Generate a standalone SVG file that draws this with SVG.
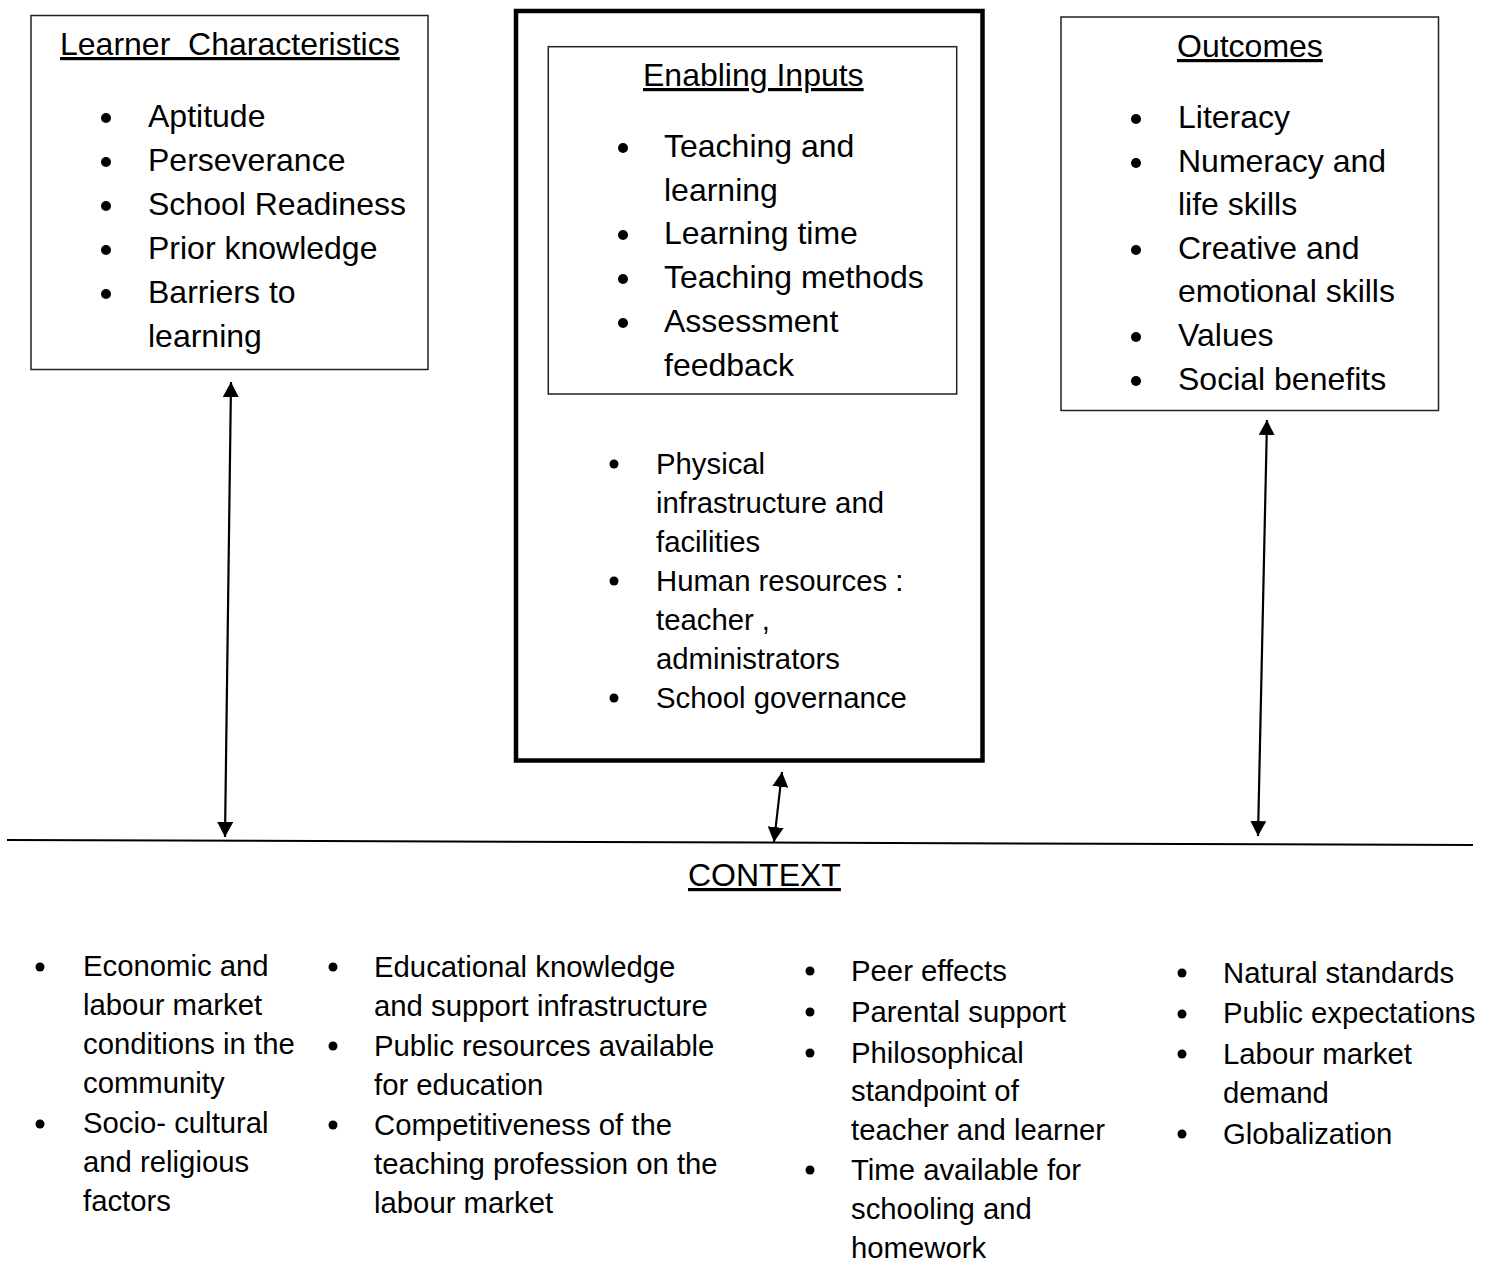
<svg xmlns="http://www.w3.org/2000/svg" width="1486" height="1262" viewBox="0 0 1486 1262">
<style>
text{font-family:"Liberation Sans",Arial,sans-serif;fill:#000}
.h{font-size:32px;text-decoration:underline}
.t32{font-size:32px}
.t29{font-size:29.3px}
.box{fill:none;stroke:#222;stroke-width:1.5}
.frame{fill:none;stroke:#000;stroke-width:4.5}
.b{fill:#000}
.conn{fill:none;stroke:#000;stroke-width:2.2}
.ctx{fill:none;stroke:#000;stroke-width:2}
</style>
<defs>
<marker id="ah" viewBox="0 0 15 16" refX="15" refY="8" markerWidth="15" markerHeight="16" markerUnits="userSpaceOnUse" orient="auto-start-reverse">
<path d="M0,0 L15,8 L0,16 z" fill="#000"/>
</marker>
</defs>
<rect width="1486" height="1262" fill="#fff"/>

<g id="learner-characteristics">
<rect class="box" x="31" y="15.5" width="397" height="354"/>
<text class="h" x="60" y="55" xml:space="preserve">Learner  Characteristics</text>
<circle class="b" cx="106" cy="118" r="5"/>
<circle class="b" cx="106" cy="162" r="5"/>
<circle class="b" cx="106" cy="206" r="5"/>
<circle class="b" cx="106" cy="250" r="5"/>
<circle class="b" cx="106" cy="294" r="5"/>
<text class="t32" x="148" y="127">Aptitude</text>
<text class="t32" x="148" y="171">Perseverance</text>
<text class="t32" x="148" y="215">School Readiness</text>
<text class="t32" x="148" y="259">Prior knowledge</text>
<text class="t32" x="148" y="303">Barriers to</text>
<text class="t32" x="148" y="347">learning</text>
</g>

<g id="enabling-inputs">
<rect class="frame" x="516" y="11" width="466.5" height="749.5"/>
<g id="enabling-inputs-core">
<rect class="box" x="548.3" y="46.7" width="408.4" height="347.3"/>
<text class="h" x="643" y="86">Enabling Inputs</text>
<circle class="b" cx="623" cy="148" r="5"/>
<circle class="b" cx="623" cy="235" r="5"/>
<circle class="b" cx="623" cy="279" r="5"/>
<circle class="b" cx="623" cy="323" r="5"/>
<text class="t32" x="664" y="157">Teaching and</text>
<text class="t32" x="664" y="201">learning</text>
<text class="t32" x="664" y="244">Learning time</text>
<text class="t32" x="664" y="288">Teaching methods</text>
<text class="t32" x="664" y="332">Assessment</text>
<text class="t32" x="664" y="376">feedback</text>
</g>
<circle class="b" cx="614" cy="464" r="4.5"/>
<circle class="b" cx="614" cy="581" r="4.5"/>
<circle class="b" cx="614" cy="698" r="4.5"/>
<text class="t29" x="656" y="474">Physical</text>
<text class="t29" x="656" y="513">infrastructure and</text>
<text class="t29" x="656" y="552">facilities</text>
<text class="t29" x="656" y="591">Human resources :</text>
<text class="t29" x="656" y="630">teacher ,</text>
<text class="t29" x="656" y="669">administrators</text>
<text class="t29" x="656" y="708">School governance</text>
</g>

<g id="outcomes">
<rect class="box" x="1061" y="17" width="377.5" height="393.5"/>
<text class="h" x="1177" y="57">Outcomes</text>
<circle class="b" cx="1136" cy="119" r="5"/>
<circle class="b" cx="1136" cy="163" r="5"/>
<circle class="b" cx="1136" cy="250" r="5"/>
<circle class="b" cx="1136" cy="337" r="5"/>
<circle class="b" cx="1136" cy="381" r="5"/>
<text class="t32" x="1178" y="128">Literacy</text>
<text class="t32" x="1178" y="172">Numeracy and</text>
<text class="t32" x="1178" y="215">life skills</text>
<text class="t32" x="1178" y="259">Creative and</text>
<text class="t32" x="1178" y="302">emotional skills</text>
<text class="t32" x="1178" y="346">Values</text>
<text class="t32" x="1178" y="390">Social benefits</text>
</g>

<g id="context">
<line class="ctx" x1="7" y1="840" x2="1473" y2="845"/>
<text class="h" x="688" y="886">CONTEXT</text>
<g id="context-col1">
<circle class="b" cx="40" cy="967" r="4.5"/>
<circle class="b" cx="40" cy="1124" r="4.5"/>
<text class="t29" x="83" y="976">Economic and</text>
<text class="t29" x="83" y="1015">labour market</text>
<text class="t29" x="83" y="1054">conditions in the</text>
<text class="t29" x="83" y="1093">community</text>
<text class="t29" x="83" y="1133">Socio- cultural</text>
<text class="t29" x="83" y="1172">and religious</text>
<text class="t29" x="83" y="1211">factors</text>
</g>
<g id="context-col2">
<circle class="b" cx="333" cy="967" r="4.5"/>
<circle class="b" cx="333" cy="1046" r="4.5"/>
<circle class="b" cx="333" cy="1125" r="4.5"/>
<text class="t29" x="374" y="977">Educational knowledge</text>
<text class="t29" x="374" y="1016">and support infrastructure</text>
<text class="t29" x="374" y="1056">Public resources available</text>
<text class="t29" x="374" y="1095">for education</text>
<text class="t29" x="374" y="1135">Competitiveness of the</text>
<text class="t29" x="374" y="1174">teaching profession on the</text>
<text class="t29" x="374" y="1213">labour market</text>
</g>
<g id="context-col3">
<circle class="b" cx="810" cy="971" r="4.5"/>
<circle class="b" cx="810" cy="1012" r="4.5"/>
<circle class="b" cx="810" cy="1053" r="4.5"/>
<circle class="b" cx="810" cy="1170" r="4.5"/>
<text class="t29" x="851" y="981">Peer effects</text>
<text class="t29" x="851" y="1022">Parental support</text>
<text class="t29" x="851" y="1063">Philosophical</text>
<text class="t29" x="851" y="1101">standpoint of</text>
<text class="t29" x="851" y="1140">teacher and learner</text>
<text class="t29" x="851" y="1180">Time available for</text>
<text class="t29" x="851" y="1219">schooling and</text>
<text class="t29" x="851" y="1258">homework</text>
</g>
<g id="context-col4">
<circle class="b" cx="1182" cy="973" r="4.5"/>
<circle class="b" cx="1182" cy="1014" r="4.5"/>
<circle class="b" cx="1182" cy="1054" r="4.5"/>
<circle class="b" cx="1182" cy="1134" r="4.5"/>
<text class="t29" x="1223" y="983">Natural standards</text>
<text class="t29" x="1223" y="1023">Public expectations</text>
<text class="t29" x="1223" y="1064">Labour market</text>
<text class="t29" x="1223" y="1103">demand</text>
<text class="t29" x="1223" y="1144">Globalization</text>
</g>
</g>

<g id="connectors">
<path class="conn" d="M231,382 L225,837" marker-start="url(#ah)" marker-end="url(#ah)"/>
<path class="conn" d="M782,772 L774,842" marker-start="url(#ah)" marker-end="url(#ah)"/>
<path class="conn" d="M1267,420 L1258,836" marker-start="url(#ah)" marker-end="url(#ah)"/>
</g>
</svg>
